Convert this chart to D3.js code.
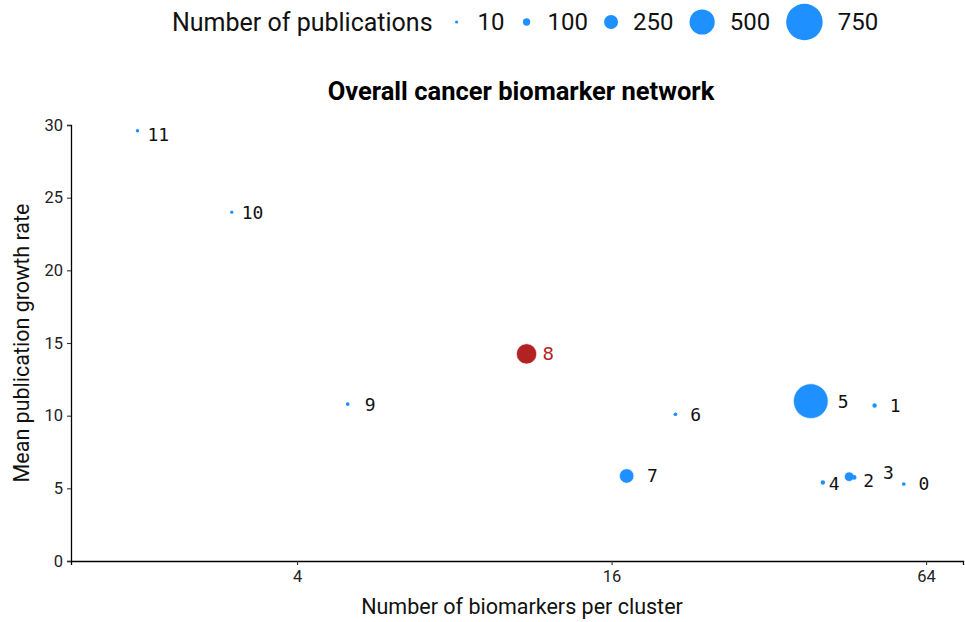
<!DOCTYPE html>
<html>
<head>
<meta charset="utf-8">
<script src="https://cdn.jsdelivr.net/npm/d3@7"></script>
<style>
  body { margin: 0; background: #fff; }
  svg { font-family: Roboto, "Noto Sans", sans-serif; }
</style>
</head>
<body>
<div id="chart"></div>
<script>
// Chart size
const width = 965;
const height = 622;
const margin = {left: 71, right: 2, top: 125, bottom: 61};

// Data: one entry per cluster
const clusters = ["0", "1", "2", "3", "4", "5", "6", "7", "8", "9", "10", "11"];
const biomarkers = [58, 51, 45.6, 46.6, 40.6, 38.5, 21.2, 17.1, 11, 5, 3, 1.98];
const growthRate = [5.3, 10.7, 5.8, 5.75, 5.4, 11.0, 10.1, 5.85, 14.25, 10.8, 24.0, 29.6];
const publications = [20, 35, 150, 45, 35, 710, 20, 260, 390, 20, 10, 15];
const highlight = ["8"];

// legend
const legendValues = [10, 100, 250, 500, 750];

// label nudges (ggrepel-ish placement)
const nudge = {"2": [14, 4], "3": [29, -5], "4": [6, 1], "5": [27, 0], "8": [16, 0],
               "9": [17, 0], "11": [10, 4], "10": [10, 0]};

const blue = "#1E90FF";
const red = "#B22222";

const svg = d3.select("#chart")
  .append("svg")
  .attr("width", width)
  .attr("height", height);

// Scales
let xScale = d3.scaleLog()
  .base(2)
  .domain([1.477, 75.3])
  .range([margin.left, width - margin.right]);

let yScale = d3.scaleLinear()
  .domain([0, 30])
  .range([height - margin.bottom, margin.top]);

// scale_radius style: data range -> radius range
let rScale = d3.scaleLinear()
  .domain([5, 740])
  .range([1.5, 18]);

// Axes
const yAxis = svg.append("g")
  .attr("transform", `translate(${margin.left},0)`)
  .call(d3.axisLeft(yScale).tickValues([0, 5, 10, 15, 20, 25, 30]).tickSize(4).tickPadding(4));

const xAxis = svg.append("g")
  .attr("transform", `translate(0,${height - margin.bottom})`)
  .call(d3.axisBottom(xScale).tickValues([4, 16, 64]).tickFormat(d3.format("d")).tickSize(4).tickPadding(5));

[xAxis, yAxis].forEach(a => {
  a.select(".domain").attr("stroke", "#000").attr("stroke-width", 1.3);
  a.selectAll(".tick line").attr("stroke", "#333").attr("stroke-width", 1.1);
  a.selectAll(".tick text")
    .attr("font-family", "Roboto, sans-serif")
    .attr("font-size", "16.5px")
    .attr("fill", "#222");
});

// Axis titles
svg.append("text")
  .attr("x", 522)
  .attr("y", 614)
  .attr("text-anchor", "middle")
  .attr("font-size", "21.5px")
  .attr("fill", "#111")
  .text("Number of biomarkers per cluster");

svg.append("text")
  .attr("transform", `translate(29,${(margin.top + height - margin.bottom) / 2}) rotate(-90)`)
  .attr("text-anchor", "middle")
  .attr("font-size", "21.5px")
  .attr("fill", "#111")
  .text("Mean publication growth rate");

// Title
svg.append("text")
  .attr("x", 521)
  .attr("y", 100)
  .attr("text-anchor", "middle")
  .attr("font-size", "25.5px")
  .attr("font-weight", "bold")
  .attr("fill", "#000")
  .text("Overall cancer biomarker network");

// Points
const rows = clusters.map((c, i) => ({
  name: c, x: biomarkers[i], y: growthRate[i], n: publications[i]
}));

svg.selectAll(".dot")
  .data(rows.slice().sort((a, b) => b.n - a.n))
  .enter()
  .append("circle")
    .attr("class", "dot")
    .attr("cx", d => xScale(d.x))
    .attr("cy", d => yScale(d.y))
    .attr("r", d => rScale(d.n))
    .attr("fill", d => highlight.includes(d.name) ? red : blue)
    .attr("stroke", "#fff")
    .attr("stroke-width", d => rScale(d.n) > 3 ? 0.6 : 0);

// Labels
svg.selectAll(".lab")
  .data(rows)
  .enter()
  .append("text")
    .attr("class", "lab")
    .attr("x", d => xScale(d.x) + (nudge[d.name] ? nudge[d.name][0] : rScale(d.n) + 13))
    .attr("y", d => yScale(d.y) + (nudge[d.name] ? nudge[d.name][1] : 0))
    .attr("dy", "0.36em")
    .attr("font-family", d => highlight.includes(d.name) ? "'DejaVu Sans', sans-serif" : "'DejaVu Sans Mono', monospace")
    .attr("font-size", "18px")
    .attr("fill", d => highlight.includes(d.name) ? red : "#111")
    .text(d => d.name);

// Legend
const legend = svg.append("g").attr("transform", "translate(172,22)");
const legTitle = legend.append("text")
  .attr("x", 0)
  .attr("dy", "0.35em")
  .attr("font-size", "25px")
  .attr("fill", "#111")
  .text("Number of publications");

let lx = legTitle.node().getComputedTextLength() + 2;
legendValues.forEach(v => {
  const r = rScale(v);
  const half = Math.max(r + 16, 22);
  legend.append("circle")
    .attr("cx", lx + half)
    .attr("cy", 0)
    .attr("r", r)
    .attr("fill", blue);
  lx += 2 * half - 1;
  const t = legend.append("text")
    .attr("x", lx)
    .attr("dy", "0.35em")
    .attr("font-size", "24px")
    .attr("fill", "#111")
    .text(v);
  lx += t.node().getComputedTextLength();
});
</script>
</body>
</html>
